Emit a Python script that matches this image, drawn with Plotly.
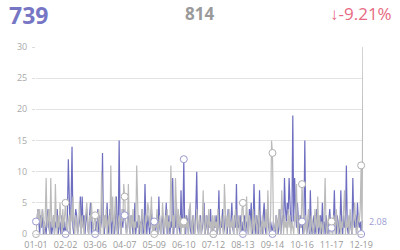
import plotly.graph_objects as go
import pandas as pd

# ---- data ----
total_current = 739
total_previous = 814
change_pct = (total_current / total_previous - 1) * 100

dates = [d.strftime("%m-%d") for d in pd.date_range("2023-01-01", periods=355, freq="D")]
tick_labels = ["01-01", "02-02", "03-06", "04-07", "05-09", "06-10",
               "07-12", "08-13", "09-14", "10-16", "11-17", "12-19"]

current = [
    2,2,4,1,0,3,1,4,0,2,1,0,3,4,1,0,2,0,1,3,0,2,1,4,0,1,2,0,3,1,0,2,
    0,1,3,12,2,0,5,14,1,0,2,4,3,0,1,2,6,0,6,1,3,0,2,4,1,0,3,5,0,2,1,0,
    0,2,1,4,0,3,1,2,13,1,0,3,2,5,0,1,4,2,0,3,1,0,2,6,1,0,15,2,0,3,1,4,
    3,1,0,2,4,1,0,3,2,0,1,5,0,2,1,3,0,2,1,4,0,1,8,2,0,3,1,0,2,4,1,0,
    2,0,1,3,0,6,1,0,2,3,0,1,2,5,0,1,3,0,2,1,9,0,2,1,5,0,3,1,0,7,1,2,
    12,1,0,3,2,0,4,1,0,2,3,0,1,4,10,1,0,2,3,0,1,2,5,0,1,3,0,2,1,4,0,1,
    0,2,1,3,0,1,7,0,2,1,4,0,1,3,2,0,4,1,0,2,5,1,0,3,1,8,0,2,1,3,0,2,
    0,1,3,0,2,1,0,4,2,5,0,1,8,2,0,3,1,0,7,1,2,0,3,5,1,0,2,4,1,0,2,1,
    0,2,1,0,3,2,0,1,4,0,2,3,1,9,4,2,5,3,9,3,1,2,19,2,9,4,1,5,2,0,3,1,
    2,0,1,15,2,0,1,3,0,7,1,0,2,3,0,1,4,2,0,1,3,0,5,1,2,0,3,1,0,2,4,1,
    1,0,2,7,1,0,3,2,0,1,7,2,0,3,1,2,11,1,0,2,3,1,0,9,2,1,3,0,5,2,1,2,
    0,2,2.08,
]

previous = [
    0,3,4,2,4,1,3,4,2,0,3,9,1,2,4,0,9,2,1,3,0,8,2,0,3,1,5,2,0,4,1,3,
    5,1,0,2,3,0,4,2,6,1,0,3,2,0,1,5,2,0,3,1,0,2,4,5,1,0,3,2,5,1,0,2,
    3,1,0,2,4,1,0,10,2,0,3,1,4,0,2,3,0,11,2,6,0,4,6,1,0,2,3,1,0,4,2,8,
    6,2,0,1,8,2,0,3,1,4,0,2,1,11,2,0,3,1,0,4,2,1,0,3,2,5,4,1,3,6,0,2,
    0,2,1,4,0,2,3,0,1,5,2,0,3,1,4,0,2,1,11,2,0,3,1,9,2,0,4,1,3,0,2,1,
    2,0,3,1,2,0,4,5,1,0,3,2,0,1,4,2,0,3,1,0,2,7,1,0,3,2,0,4,1,2,0,3,
    0,3,1,2,0,4,1,0,2,3,1,0,8,2,0,3,1,4,0,2,1,3,0,2,4,1,0,3,2,0,1,4,
    5,1,0,2,6,1,0,3,2,0,1,4,0,2,3,1,0,4,2,0,1,3,0,2,1,4,0,7,2,0,3,15,
    13,2,0,1,3,0,2,4,1,0,7,2,0,3,1,2,0,4,1,3,0,2,1,0,3,2,8,1,0,3,2,1,
    8,2,0,1,3,0,2,4,1,0,3,2,0,1,4,2,0,6,1,3,0,2,1,0,3,9,1,0,2,3,0,1,
    2,0,3,1,0,4,2,0,1,3,0,2,1,4,7,0,2,1,3,0,4,2,0,1,3,5,2,0,1,3,2,4,
    11,0,30,
]

purple = "#6e6ec0"
gray = "#bbbbbb"

fig = go.Figure()
fig.add_trace(go.Scatter(x=dates, y=current, mode="lines",
                         line=dict(color=purple, width=1.2), hoverinfo="skip"))
fig.add_trace(go.Scatter(x=dates, y=previous, mode="lines",
                         line=dict(color=gray, width=1.2), hoverinfo="skip"))

mark_idx = list(range(0, len(dates), 32))
fig.add_trace(go.Scatter(x=[dates[i] for i in mark_idx], y=[current[i] for i in mark_idx],
                         mode="markers", cliponaxis=False,
                         marker=dict(size=7, color="white", line=dict(color="#9a9ad0", width=1))))
fig.add_trace(go.Scatter(x=[dates[i] for i in mark_idx], y=[previous[i] for i in mark_idx],
                         mode="markers", cliponaxis=False,
                         marker=dict(size=7, color="white", line=dict(color="#b0b0b0", width=1))))

fig.add_annotation(x=dates[-1], y=current[-1], xref="x", yref="y",
                   text=f"{current[-1]:.2f}", showarrow=False, xanchor="left", yanchor="middle",
                   xshift=4, font=dict(size=9, color="#9c9cd2", family="Open Sans"))

W, H = 400, 250
ml, mr, mt, mb = 36, 37, 47, 16
pw, ph = W - ml - mr, H - mt - mb

def px(x):
    return (x - ml) / pw

def py(y):
    return (H - mb - y) / ph

fig.add_annotation(x=px(7), y=py(15), xref="paper", yref="paper", text=f"<b>{total_current}</b>",
                   showarrow=False, xanchor="left", yanchor="middle",
                   font=dict(size=23, color="#7676c4", family="Open Sans"))
fig.add_annotation(x=px(200), y=py(14), xref="paper", yref="paper", text=f"<b>{total_previous}</b>",
                   showarrow=False, xanchor="center", yanchor="middle",
                   font=dict(size=17, color="#9a9a9a", family="Open Sans"))
fig.add_annotation(x=px(394), y=py(14), xref="paper", yref="paper",
                   text=f"\u2193{change_pct:.2f}%",
                   showarrow=False, xanchor="right", yanchor="middle",
                   font=dict(size=17, color="#e86a82", family="Open Sans"))

fig.update_layout(
    width=W, height=H,
    margin=dict(l=ml, r=mr, t=mt, b=mb, pad=0),
    paper_bgcolor="white", plot_bgcolor="white",
    showlegend=False,
    font=dict(family="Open Sans", size=9, color="#999999"),
)
fig.update_xaxes(
    type="category", range=[0, len(dates) - 1], automargin=False,
    tickvals=tick_labels, ticktext=tick_labels, ticklabelstandoff=2,
    showgrid=False, showline=True, linecolor="#cccccc", linewidth=1,
    ticks="", tickfont=dict(size=9, color="#999999"), zeroline=False,
)
fig.update_yaxes(
    range=[0, 30], dtick=5, showgrid=True, gridcolor="#e3e3e3", gridwidth=1, automargin=False,
    showline=False, ticks="outside", ticklen=3, tickcolor="#dddddd", ticklabelstandoff=3,
    tickfont=dict(size=9, color="#aaaaaa"), zeroline=False,
)

fig.write_html("out.html")
